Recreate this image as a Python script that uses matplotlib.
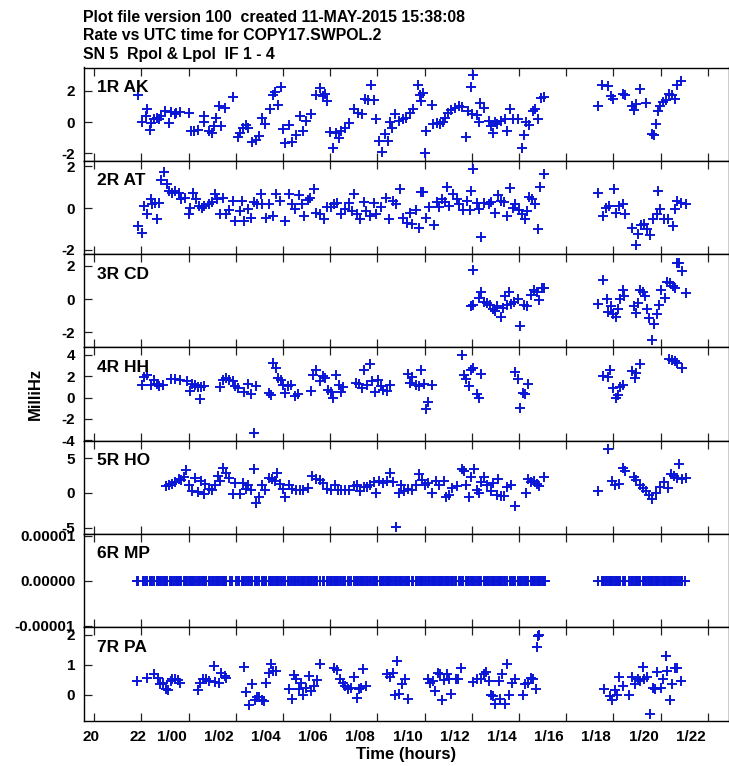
import numpy as np
import matplotlib
matplotlib.use("Agg")
import matplotlib.pyplot as plt
from matplotlib.transforms import ScaledTranslation

# (time in hours from day 0, rate in MilliHz)
ak = [(21.86, 1.75), (22.25, 0.83), (22.03, 0.0), (22.18, 0.39), (22.35, -0.53), (22.42, -0.04),
      (22.53, 0.18), (22.65, 0.28), (22.74, 0.18), (22.83, 0.39), (23.0, 0.72), (23.18, -0.04),
      (23.27, 0.66), (23.41, 0.5), (23.48, 0.61), (23.62, 0.66), (24.0, 0.61), (24.11, -0.59),
      (24.23, -0.55), (24.41, -0.48), (24.64, 0.39), (24.67, 0.0), (24.88, -0.59), (24.99, -0.7),
      (25.06, -0.26), (25.16, 0.28), (25.28, 1.05), (25.37, -0.22), (25.55, 0.94), (25.87, 1.6),
      (26.08, -0.92), (26.17, -0.7), (26.29, -0.37), (26.43, -0.15), (26.52, -0.37), (26.69, -1.25),
      (26.87, -1.14), (26.99, -0.88), (27.1, 0.28), (27.22, -0.09), (27.45, 0.83), (27.57, 1.71),
      (27.66, 1.93), (27.8, 1.09), (27.92, 2.25), (28.01, -0.44), (28.1, -1.36), (28.27, -0.15),
      (28.4, -1.25), (28.54, -0.81), (28.71, 0.39), (28.85, -0.59), (28.98, 0.07), (29.21, 0.5),
      (29.42, 1.71), (29.56, 2.19), (29.68, 1.66), (29.77, 1.82), (29.87, 1.38), (29.98, -0.63),
      (30.12, -1.68), (30.26, -0.7), (30.38, -1.03), (30.47, -0.59), (30.65, -0.37), (30.82, -0.04),
      (31.0, 0.83), (31.17, 0.61), (31.35, 0.5), (31.49, 1.49), (31.61, 1.44), (31.74, 2.41),
      (31.87, 1.44), (31.96, 0.18), (32.09, -1.18), (32.18, -1.9), (32.32, -0.74), (32.44, -1.18),
      (32.54, 0.0), (32.62, -0.39), (32.76, 0.5), (32.93, 0.07), (33.07, 0.18), (33.2, 0.28),
      (33.37, 0.57), (33.49, 0.83), (33.72, 2.36), (33.81, 1.71), (33.95, 1.88), (33.84, 1.38),
      (34.07, -0.59), (34.04, -1.97), (34.3, 1.09), (34.37, -0.09), (34.51, -0.04), (34.65, -0.09),
      (34.78, 0.0), (34.86, 0.28), (35.0, 0.57), (35.12, 0.79), (35.3, 0.88), (35.48, 1.05),
      (35.6, 0.98), (35.74, -0.96), (35.83, 0.72), (35.95, 2.25), (36.0, 0.5), (36.06, 3.02),
      (36.23, 0.44), (36.3, 0.0), (36.37, 1.23), (36.53, 0.94), (36.71, 0.07), (36.8, -0.22),
      (36.88, -0.7), (36.97, 0.0), (37.06, -0.09), (37.23, 0.07), (37.41, 0.22), (37.5, -0.59),
      (37.64, 0.83), (37.76, 0.18), (37.94, 0.22), (38.12, -1.68), (38.2, -0.81), (38.29, 0.0),
      (38.41, -0.15), (38.59, 0.72), (38.7, 0.83), (38.82, 0.22), (38.94, 1.53), (39.05, 1.6),
      (41.37, 1.01), (41.51, 2.41), (41.76, 2.32), (41.89, 1.66), (41.98, 1.49), (42.42, 1.82),
      (42.51, 1.75), (42.77, 1.01), (42.86, 0.79), (42.98, 1.16), (43.12, 2.1), (43.39, 1.23),
      (43.65, -0.74), (43.74, -0.81), (43.79, -0.09), (43.91, 0.72), (43.97, 1.05), (44.09, 1.31),
      (44.22, 1.44), (44.36, 1.82), (44.5, 1.71), (44.62, 1.49), (44.71, 2.36), (44.85, 2.63)]

at = [(21.86, -0.86), (22.04, -1.18), (22.12, 0.1), (22.25, -0.27), (22.39, 0.42), (22.47, 0.21),
      (22.56, 0.26), (22.65, -0.54), (22.77, 0.26), (22.83, 1.33), (22.97, 1.74), (23.09, 1.17),
      (23.18, 0.82), (23.3, 0.74), (23.44, 0.82), (23.58, 0.74), (23.7, 0.42), (23.83, 0.5),
      (24.0, -0.3), (24.06, 0.02), (24.18, 0.74), (24.32, 0.42), (24.46, 0.1), (24.58, 0.02),
      (24.67, 0.1), (24.85, 0.18), (24.99, 0.3), (25.11, 0.66), (25.2, 0.42), (25.34, -0.3),
      (25.48, 0.5), (25.59, -0.3), (25.73, -0.11), (25.87, 0.34), (25.99, -0.59), (26.17, -0.14),
      (26.25, 0.34), (26.34, -0.59), (26.52, -0.06), (26.64, -0.46), (26.78, 0.3), (26.92, 0.18),
      (27.08, 0.69), (27.13, 0.18), (27.27, -0.46), (27.4, 0.18), (27.57, -0.38), (27.69, 0.69),
      (27.87, 0.34), (28.1, -0.59), (28.27, 0.66), (28.4, 0.18), (28.5, -0.06), (28.68, 0.62),
      (28.8, 0.18), (28.89, -0.38), (29.07, 0.37), (29.15, 0.5), (29.33, 0.94), (29.42, -0.22),
      (29.56, -0.27), (29.73, -0.54), (29.86, 0.05), (30.03, 0.05), (30.15, 0.18), (30.3, 0.26),
      (30.47, -0.27), (30.61, -0.06), (30.79, 0.26), (30.91, -0.14), (31.0, 0.69), (31.14, -0.3),
      (31.26, -0.54), (31.44, 0.3), (31.52, -0.14), (31.7, -0.38), (31.84, 0.26), (31.96, -0.3),
      (32.14, 0.05), (32.37, 0.5), (32.49, -0.54), (32.67, 0.34), (32.79, 0.18), (32.97, 0.94),
      (33.07, -0.46), (33.25, -0.7), (33.37, -0.22), (33.46, -0.78), (33.63, -0.11), (33.78, -0.94),
      (33.85, 0.78), (33.95, 0.78), (34.07, -0.46), (34.2, 0.05), (34.39, -0.82), (34.51, 0.3),
      (34.6, 0.05), (34.72, 0.42), (34.86, 0.3), (34.95, 1.01), (35.04, 0.1), (35.22, 0.69),
      (35.36, 0.42), (35.48, 0.21), (35.65, -0.11), (35.78, 0.34), (35.92, -0.11), (35.95, 0.82),
      (36.06, 1.9), (36.23, 0.26), (36.3, -0.02), (36.41, -1.39), (36.53, 0.26), (36.71, 0.18),
      (36.83, 0.3), (36.97, -0.22), (37.11, 0.62), (37.23, 0.34), (37.36, 0.3), (37.5, -0.38),
      (37.62, 0.98), (37.76, 0.02), (37.85, 0.18), (37.99, -0.11), (38.12, -0.3), (38.24, -0.5),
      (38.34, -0.14), (38.41, 0.53), (38.55, 0.42), (38.7, 0.18), (38.82, -1.02), (38.91, 1.01),
      (39.05, 1.65), (41.37, 0.74), (41.55, -0.38), (41.69, 0.02), (41.81, 0.1), (42.04, 0.9),
      (42.11, -0.22), (42.25, 0.1), (42.42, 0.18), (42.51, -0.3), (42.81, -0.94), (42.95, -1.78),
      (43.04, -1.23), (43.16, -0.82), (43.3, -0.78), (43.44, -1.02), (43.56, -1.3), (43.69, -0.5),
      (43.83, -0.3), (43.97, -0.06), (43.91, 0.82), (44.15, -0.54), (44.32, -0.5), (44.53, -0.86),
      (44.62, -0.06), (44.71, 0.34), (44.85, 0.26), (45.06, 0.18)]

cd = [(36.06, 1.72), (35.95, -0.44), (36.07, -0.36), (36.3, 0.04), (36.41, 0.44), (36.53, -0.16),
      (36.65, -0.24), (36.76, -0.36), (36.88, -0.61), (36.97, -0.71), (37.06, -0.44), (37.23, -1.05),
      (37.32, -0.51), (37.41, 0.16), (37.5, -0.36), (37.58, 0.44), (37.67, -0.3), (37.81, -0.16),
      (37.94, 0.0), (38.06, -1.62), (38.2, -0.36), (38.34, -0.44), (38.52, 0.24), (38.64, 0.57),
      (38.77, 0.44), (38.87, -0.04), (38.99, 0.65), (39.08, 0.65), (41.37, -0.3), (41.58, 1.17),
      (41.72, 0.0), (41.76, -0.77), (41.89, -0.4), (41.98, -0.91), (42.11, -1.05), (42.21, -0.61),
      (42.28, 0.0), (42.39, 0.57), (42.46, 0.2), (42.86, -0.44), (42.95, -0.85), (43.04, -0.24),
      (43.12, 0.57), (43.26, 0.44), (43.33, 0.2), (43.44, -0.61), (43.51, -1.11), (43.62, -2.46),
      (43.74, -1.52), (43.83, -0.91), (43.92, -0.36), (44.0, 0.57), (44.18, 0.04), (44.27, 1.05),
      (44.39, 0.97), (44.53, 0.81), (44.62, 0.65), (44.71, 2.18), (44.8, 2.18), (44.92, 1.66),
      (45.06, 0.36)]

hh = [(22.04, 1.14), (22.12, 1.9), (22.25, 2.1), (22.42, 1.14), (22.53, 1.68), (22.65, 1.27),
      (22.77, 1.05), (22.91, 1.14), (23.27, 1.78), (23.41, 1.78), (23.62, 1.68), (23.93, 1.59),
      (24.06, 0.57), (24.14, 1.27), (24.28, 1.14), (24.41, 0.95), (24.5, -0.13), (24.53, 0.95),
      (24.67, 1.05), (25.34, 0.95), (25.46, 1.68), (25.59, 1.84), (25.73, 1.68), (25.87, 1.59),
      (25.99, 1.05), (26.11, 0.89), (26.34, 0.51), (26.52, 1.27), (26.64, 0.32), (26.78, -3.3),
      (26.87, 1.05), (27.4, 0.41), (27.49, 0.25), (27.57, 3.27), (27.69, 2.79), (27.8, 1.84),
      (27.92, 1.68), (28.01, 1.21), (28.1, 0.41), (28.22, 1.05), (28.36, 1.21), (28.5, 0.1),
      (28.63, 0.32), (29.21, 0.63), (29.28, 2.1), (29.42, 2.54), (29.56, 1.59), (29.68, 2.0),
      (29.77, 1.84), (29.91, 0.73), (30.03, 0.51), (30.12, 0.0), (30.26, 2.1), (30.38, 1.21),
      (30.47, 0.51), (30.56, 0.95), (31.09, 1.37), (31.21, 1.27), (31.35, 0.89), (31.44, 2.63),
      (31.56, 1.21), (31.7, 3.17), (31.79, 1.59), (31.91, 0.51), (32.02, 1.68), (32.14, 1.05),
      (32.26, 0.73), (32.4, 0.57), (32.54, 1.14), (33.28, 2.22), (33.37, 1.37), (33.46, 1.9),
      (33.63, 1.21), (33.77, 1.05), (33.84, 2.63), (33.98, 1.27), (34.07, -1.08), (34.16, -0.44),
      (34.3, 1.14), (35.57, 4.0), (35.66, 2.1), (35.74, 1.78), (35.88, 1.05), (35.95, 2.63),
      (36.06, 2.79), (36.23, 0.32), (36.3, -0.06), (36.41, 2.22), (37.82, 2.41), (37.94, 1.78),
      (38.06, -0.95), (38.16, 0.41), (38.24, 0.32), (38.38, 1.27), (41.55, 2.0), (41.76, 1.9),
      (41.86, 2.63), (41.98, 0.89), (42.11, -0.06), (42.21, 0.25), (42.28, 0.95), (42.42, 1.21),
      (42.77, 2.48), (42.91, 1.84), (42.98, 2.32), (43.12, 3.17), (44.36, 3.59), (44.5, 3.49),
      (44.62, 3.43), (44.71, 3.27), (44.89, 2.79)]

ho = [(23.05, 0.97), (23.18, 1.12), (23.3, 1.31), (23.44, 1.6), (23.58, 1.94), (23.7, 1.8),
      (23.79, 2.28), (23.88, 3.25), (24.0, 1.21), (24.14, 0.34), (24.28, 2.09), (24.41, 0.15),
      (24.53, 1.7), (24.64, -0.15), (24.71, 1.31), (24.85, 0.63), (24.99, 0.49), (25.11, 1.21),
      (25.23, 2.43), (25.34, 1.7), (25.46, 3.54), (25.59, 2.91), (25.73, 2.18), (25.87, -0.15),
      (25.99, 1.46), (26.17, -0.15), (26.29, 1.46), (26.43, 0.63), (26.52, 1.21), (26.64, 0.49),
      (26.78, 3.4), (26.87, -1.46), (26.99, -0.63), (27.13, 1.12), (27.22, 0.49), (27.4, 2.18),
      (27.52, 1.94), (27.66, 1.7), (27.75, 2.91), (27.87, 1.31), (28.01, 0.63), (28.1, -0.63),
      (28.27, 1.21), (28.4, 0.63), (28.54, 0.49), (28.71, 0.49), (28.85, 0.49), (29.07, 0.73),
      (29.24, 2.43), (29.38, 1.94), (29.56, 1.8), (29.68, 1.46), (29.86, 0.63), (30.03, 0.49),
      (30.21, 1.21), (30.33, 0.49), (30.47, 0.49), (30.65, 0.49), (30.82, 0.49), (31.0, 0.97),
      (31.14, 1.21), (31.26, 0.24), (31.44, 0.83), (31.56, 0.83), (31.7, 1.12), (31.84, 1.6),
      (31.96, 0.0), (32.09, 1.7), (32.23, 1.46), (32.4, 1.7), (32.54, 2.91), (32.67, 1.6),
      (32.79, -4.85), (32.9, 0.0), (33.02, 1.21), (33.14, 0.34), (33.28, 0.63), (33.46, 0.49),
      (33.63, 1.21), (33.77, 2.67), (33.9, 1.8), (34.02, 1.12), (34.16, 1.46), (34.3, 0.0),
      (34.48, 1.7), (34.6, 1.21), (34.83, 1.7), (34.9, -0.63), (35.04, -0.24), (35.18, 0.73),
      (35.36, 0.97), (35.57, 3.4), (35.66, 3.16), (35.74, 1.21), (35.88, -0.63), (35.95, 2.28),
      (36.09, 3.4), (36.23, 0.49), (36.3, 0.0), (36.41, 1.6), (36.53, 2.28), (36.66, 1.21),
      (36.8, 0.24), (36.88, 1.46), (37.06, -0.34), (37.11, 1.94), (37.23, -0.49), (37.36, -0.49),
      (37.5, 0.83), (37.67, 1.21), (37.85, -1.8), (38.29, 0.0), (38.38, 1.94), (38.52, 1.6),
      (38.64, 1.7), (38.77, 1.31), (38.87, 0.97), (39.05, 2.28), (41.37, 0.34), (41.76, 6.31),
      (41.93, 1.7), (42.07, 1.21), (42.25, 1.31), (42.39, 3.64), (42.51, 3.16), (42.86, 2.28),
      (42.98, 1.8), (43.12, 1.21), (43.26, 0.73), (43.39, 0.24), (43.51, -0.34), (43.65, -0.83),
      (43.79, 0.0), (43.97, 0.83), (44.15, 1.6), (44.32, 0.73), (44.45, 2.77), (44.57, 2.43),
      (44.71, 2.09), (44.8, 4.22), (44.92, 1.94), (45.06, 2.09)]

pa = [(21.8, 0.46), (22.25, 0.57), (22.53, 0.69), (22.69, 0.57), (22.78, 0.35), (22.92, 0.4),
      (23.04, 0.18), (23.12, 0.16), (23.24, 0.46), (23.31, 0.52), (23.43, 0.54), (23.57, 0.49),
      (23.63, 0.38), (24.41, 0.16), (24.49, 0.38), (24.61, 0.52), (24.75, 0.54), (24.88, 0.46),
      (25.08, 0.97), (25.14, 0.43), (25.27, 0.38), (25.39, 0.74), (25.53, 0.63), (25.59, 0.57),
      (26.37, 0.93), (26.45, 0.09), (26.57, -0.34), (26.71, 0.37), (26.8, -0.16), (26.9, -0.07),
      (27.0, -0.07), (27.1, -0.16), (27.2, -0.21), (27.29, 0.4), (27.39, 0.72), (27.49, 1.02),
      (27.59, 0.8), (27.69, 0.8), (28.27, 0.18), (28.37, -0.13), (28.47, 0.65), (28.57, 0.52),
      (28.67, 0.18), (28.76, 0.4), (28.86, 0.01), (28.96, 0.24), (29.12, 0.63), (29.2, 0.12),
      (29.31, 0.29), (29.45, 0.49), (29.55, 1.02), (30.18, 0.88), (30.29, 0.83), (30.43, 0.52),
      (30.53, 0.4), (30.63, 0.29), (30.76, 0.18), (30.88, 0.24), (31.02, 0.61), (31.12, -0.11),
      (31.22, 0.18), (31.31, 0.24), (31.41, 0.85), (31.51, 0.31), (32.39, 0.69), (32.53, 0.61),
      (32.65, 0.72), (32.73, 0.01), (32.84, 1.13), (32.92, 0.04), (33.04, 0.35), (33.18, 0.54),
      (33.31, -0.13), (34.16, 0.52), (34.25, 0.4), (34.35, 0.46), (34.45, 0.12), (34.55, 0.72),
      (34.65, 0.69), (34.75, -0.16), (34.84, 0.49), (34.94, 0.69), (35.04, 0.52), (35.14, 0.04),
      (35.33, 0.52), (35.43, 0.52), (35.53, 0.91), (36.06, 0.43), (36.22, 0.54), (36.41, 0.54),
      (36.51, 0.69), (36.61, 0.76), (36.71, 0.46), (36.8, 0.01), (36.9, -0.04), (37.0, -0.29),
      (37.16, 0.46), (37.2, -0.13), (37.29, 0.69), (37.39, -0.29), (37.49, 1.02), (37.59, 0.01),
      (37.69, 0.4), (37.82, 0.54), (38.18, -0.02), (38.27, 0.35), (38.37, 0.4), (38.53, 0.57),
      (38.61, 0.54), (38.71, 0.18), (38.76, 1.58), (38.82, 1.96), (38.86, 2.0), (41.61, 0.18),
      (41.86, -0.04), (41.94, -0.18), (42.06, 0.16), (42.14, 0.01), (42.25, 0.61), (42.39, 0.31),
      (42.65, -0.02), (42.78, 0.61), (42.92, 0.35), (43.04, 0.52), (43.12, 0.46), (43.24, 0.94),
      (43.31, 0.52), (43.43, 0.61), (43.57, -0.63), (43.67, 0.24), (43.76, 0.18), (43.86, 0.76),
      (44.02, 0.24), (44.1, 0.52), (44.22, 1.28), (44.29, 0.8), (44.41, -0.16), (44.49, 0.35),
      (44.61, 0.88), (44.69, 0.88), (44.88, 0.46)]

# MP solutions are all zero; they sit at the solution times of the other antennas
mp_times = sorted(set(round(t * 20) / 20 for s in (ak, at, cd, hh, ho, pa) for t, _ in s))
mp = [(t, 0.0) for t in mp_times]

panels = ["1R AK", "2R AT", "3R CD", "4R HH", "5R HO", "6R MP", "7R PA"]
series = [ak, at, cd, hh, ho, mp, pa]
ylims = [(-2.47, 3.5), (-2.2, 2.27), (-2.9, 2.7), (-4.05, 4.7), (-5.9, 7.5),
         (-1.04e-5, 1.04e-5), (-0.86, 2.25)]
yticks = [[-2, 0, 2], [-2, 0, 2], [-2, 0, 2], [-4, -2, 0, 2, 4], [-5, 0, 5],
          [-1e-5, 0, 1e-5], [0, 1, 2]]
ytick_labels = [None, None, None, None, None, ["-0.00001", "0.00000", "0.00001"], None]
xticks = [20, 22, 24, 26, 28, 30, 32, 34, 36, 38, 40, 42, 44, 46]
xtick_labels = ["20", "22", "1/00", "1/02", "1/04", "1/06", "1/08", "1/10",
                "1/12", "1/14", "1/16", "1/18", "1/20", "1/22"]
title_lines = ["Plot file version 100  created 11-MAY-2015 15:38:08",
               "Rate vs UTC time for COPY17.SWPOL.2",
               "SN 5  Rpol & Lpol  IF 1 - 4"]

W, H = 729, 766
FONT = "Liberation Sans"
fig = plt.figure(figsize=(W / 100, H / 100), dpi=100)

left, right = 83.5, 729
top0, bottom_last = 67.5, 720.7
ph = (bottom_last - top0) / len(panels)

for i, (name, data) in enumerate(zip(panels, series)):
    last = i == len(panels) - 1
    top = top0 + i * ph
    ax = fig.add_axes([left / W, 1 - (top + ph) / H, (right - left) / W, ph / H])
    t, v = np.array(data).T
    ax.plot(t, v, linestyle="none", marker="+", markersize=7.2, markeredgewidth=1.4,
            color="#0a16d6")
    ax.set_xlim(19.55, 46.9)
    ax.set_ylim(*ylims[i])
    ax.set_yticks(yticks[i])
    if ytick_labels[i] is not None:
        ax.set_yticklabels(ytick_labels[i])
    else:
        ax.set_yticklabels([f"{y:g}" for y in yticks[i]])
    ax.set_xticks(xticks)
    ax.tick_params(axis="x", direction="in", length=6, width=0.9, top=True, bottom=True,
                   labelbottom=last, pad=7, labelsize=11, color="#222222")
    ax.tick_params(axis="y", direction="in", length=6, width=0.9, pad=6, labelsize=11,
                   color="#222222")
    if last:
        ax.set_xticklabels(xtick_labels)
        # the original puts the day-prefixed labels a little left of their tick
        for lab, txt in zip(ax.get_xticklabels(), xtick_labels):
            dx = -17 if "/" in txt else -3
            lab.set_transform(lab.get_transform() + ScaledTranslation(dx / 100, 0, fig.dpi_scale_trans))
    for lab in ax.get_xticklabels() + ax.get_yticklabels():
        lab.set_fontfamily(FONT)
        lab.set_fontweight("bold")
    for sp in ax.spines.values():
        sp.set_linewidth(1.0)
        sp.set_color("black")
    ax.text(0.021, 0.787, name, transform=ax.transAxes, va="center", ha="left",
            fontsize=12.5, fontweight="bold", family=FONT)

for k, line in enumerate(title_lines):
    fig.text(83 / W, 1 - (17.5 + 18.5 * k) / H, line, ha="left", va="center",
             fontsize=11.4, fontweight="bold", family=FONT)

fig.text((left + right) / 2 / W, 1 - 754 / H, "Time (hours)", ha="center", va="center",
         fontsize=12, fontweight="bold", family=FONT)
fig.text(35 / W, 1 - 394 / H, "MilliHz", ha="center", va="center", rotation=90,
         fontsize=12, fontweight="bold", family=FONT)

fig.savefig("out.png", dpi=100)
